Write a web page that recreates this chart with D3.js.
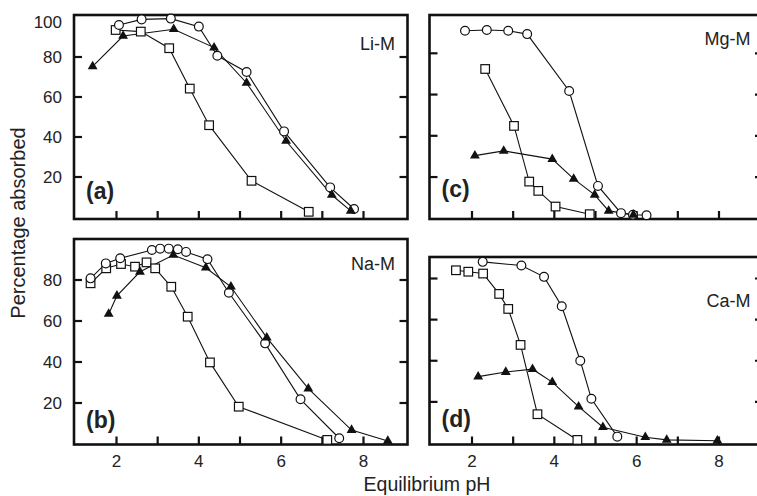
<!DOCTYPE html>
<html>
<head>
<meta charset="utf-8">
<script src="https://cdn.jsdelivr.net/npm/d3@7"></script>
<style>
  html, body { margin: 0; padding: 0; background: #fff; }
  svg { display: block; font-family: "Liberation Sans", Arial, Helvetica, sans-serif; }
</style>
</head>
<body>
<script>

// data: [pH, percentage absorbed]
const liCircle = [[2.06,96],[2.61,98.8],[3.32,99.2],[4.0,95.2],[4.45,80.6],[5.16,72.5],[6.07,42.8],[7.19,14.8],[7.77,4]];
const liTriangle = [[1.42,75.3],[2.16,90.5],[3.39,93.9],[4.37,84.7],[5.16,67],[6.12,38],[7.23,11],[7.69,3.1]];
const liSquare = [[1.98,93.5],[2.59,92.7],[3.28,84.4],[3.78,64.2],[4.25,45.9],[5.28,18.1],[6.67,2.6]];

const naCircle = [[1.37,80.8],[1.74,88.1],[2.09,90.6],[2.86,94.6],[3.06,95.3],[3.27,95.3],[3.49,95],[3.69,93.7],[4.21,90.1],[4.73,73.8],[5.61,49.1],[6.47,21.8],[7.41,2.8]];
const naTriangle = [[1.81,63.4],[2.01,72.3],[2.57,84],[3.38,92.2],[4.17,86],[4.78,76.7],[5.65,51.9],[6.66,27],[7.71,6.8],[8.59,1.5]];
const naSquare = [[1.37,78.4],[1.75,85.7],[2.11,87.8],[2.45,86.5],[2.73,88.6],[2.94,85.7],[3.33,76.7],[3.73,62.1],[4.27,39.8],[4.97,18.2],[7.12,2]];

const mgCircle = [[1.83,90.9],[2.36,91.3],[2.88,90.9],[3.34,89.3],[4.36,61.7],[5.06,15.7],[5.62,2.5],[5.91,1.7],[6.24,1.5]];
const mgTriangle = [[2.07,30.4],[2.77,32.7],[3.95,28.7],[4.47,19.1],[4.98,11.4],[5.32,3.6],[5.92,1.7]];
const mgSquare = [[2.32,72.4],[3.02,44.8],[3.39,17.8],[3.61,13.3],[4.03,5.7],[4.86,2]];

const caCircle = [[2.26,88.1],[3.2,86.3],[3.75,80.8],[4.18,66.5],[4.63,40],[4.9,21.5],[5.53,3.1]];
const caTriangle = [[2.15,32.3],[2.82,34.5],[3.47,35.9],[3.95,29.6],[4.59,17.7],[5.18,7.7],[6.21,2.8],[6.73,1.5],[7.96,1.1]];
const caSquare = [[1.61,84],[1.91,83.3],[2.27,82.4],[2.66,72.5],[2.88,65.2],[3.18,47.7],[3.59,14],[4.56,1.5]];

const xTicks = [2, 3, 4, 5, 6, 7, 8];
const xTickLabels = [2, 4, 6, 8];
const yTicks = [20, 40, 60, 80];
const yTickLabelsTop = [100, 80, 60, 40, 20];
const yTickLabelsBottom = [80, 60, 40, 20];

const width = 757, height = 496;
const panelWidth = 333.5;

const svg = d3.select('body').append('svg')
    .attr('width', width)
    .attr('height', height);

const panels = [
  { tag: '(a)', name: 'Li-M', left: 74, top: 15, bottom: 219, y0: 217, y80: 57,
    circle: liCircle, triangle: liTriangle, square: liSquare,
    yLabels: yTickLabelsTop, xLabels: false, tagY: 199, nameY: 49.5 },
  { tag: '(b)', name: 'Na-M', left: 74, top: 239, bottom: 444.5, y0: 444, y80: 280,
    circle: naCircle, triangle: naTriangle, square: naSquare,
    yLabels: yTickLabelsBottom, xLabels: true, tagY: 428, nameY: 270 },
  { tag: '(c)', name: 'Mg-M', left: 429.5, top: 15, bottom: 219, y0: 218.3, y80: 53.3,
    circle: mgCircle, triangle: mgTriangle, square: mgSquare,
    yLabels: [], xLabels: false, tagY: 197, nameY: 45 },
  { tag: '(d)', name: 'Ca-M', left: 429.5, top: 257, bottom: 444.5, y0: 443, y80: 278.5,
    circle: caCircle, triangle: caTriangle, square: caSquare,
    yLabels: [], xLabels: true, tagY: 427, nameY: 306.5 }
];

const tickLen = 8;

panels.forEach(p => {
  const right = p.left + panelWidth;
  const x = d3.scaleLinear().domain([2, 8]).range([p.left + 42.5, p.left + 289.5]);
  const y = d3.scaleLinear().domain([0, 80]).range([p.y0, p.y80]);

  const g = svg.append('g');

  // ticks, all pointing inward
  g.selectAll('.xt').data(xTicks).enter().append('line')
      .attr('x1', d => x(d)).attr('x2', d => x(d))
      .attr('y1', p.bottom).attr('y2', p.bottom - tickLen)
      .attr('stroke', '#111').attr('stroke-width', 2.2);

  g.selectAll('.ylt').data(yTicks).enter().append('line')
      .attr('x1', p.left).attr('x2', p.left + tickLen)
      .attr('y1', d => y(d)).attr('y2', d => y(d))
      .attr('stroke', '#111').attr('stroke-width', 2.2);

  g.selectAll('.yrt').data(yTicks).enter().append('line')
      .attr('x1', right).attr('x2', right - tickLen)
      .attr('y1', d => y(d)).attr('y2', d => y(d))
      .attr('stroke', '#111').attr('stroke-width', 2.2);

  // frame
  g.append('rect')
      .attr('x', p.left).attr('y', p.top)
      .attr('width', panelWidth).attr('height', p.bottom - p.top)
      .attr('fill', 'none')
      .attr('stroke', '#111')
      .attr('stroke-width', 2.6);

  // tick labels
  g.selectAll('.yl').data(p.yLabels).enter().append('text')
      .attr('x', p.left - 12)
      .attr('y', d => Math.max(y(d), p.top + 7))
      .attr('dy', '0.35em')
      .attr('text-anchor', 'end')
      .style('font-size', '17px')
      .style('fill', '#222')
      .text(d => d);

  if (p.xLabels) {
    g.selectAll('.xl').data(xTickLabels).enter().append('text')
        .attr('x', d => x(d))
        .attr('y', 467)
        .attr('text-anchor', 'middle')
        .style('font-size', '17px')
        .style('fill', '#222')
        .text(d => d);
  }

  // series lines
  const line = d3.line().x(d => x(d[0])).y(d => y(d[1]));
  [p.square, p.circle, p.triangle].forEach(s => {
    g.append('path')
        .datum(s)
        .attr('d', line)
        .attr('fill', 'none')
        .attr('stroke', '#111')
        .attr('stroke-width', 1.1);
  });

  // markers
  g.selectAll('.sq').data(p.square).enter().append('rect')
      .attr('x', d => x(d[0]) - 4.3)
      .attr('y', d => y(d[1]) - 4.3)
      .attr('width', 8.6).attr('height', 8.6)
      .attr('fill', '#fff')
      .attr('stroke', '#111')
      .attr('stroke-width', 1.2);

  g.selectAll('.ci').data(p.circle).enter().append('circle')
      .attr('cx', d => x(d[0]))
      .attr('cy', d => y(d[1]))
      .attr('r', 4.4)
      .attr('fill', '#fff')
      .attr('stroke', '#111')
      .attr('stroke-width', 1.2);

  g.selectAll('.tr').data(p.triangle).enter().append('path')
      .attr('transform', d => `translate(${x(d[0])},${y(d[1])})`)
      .attr('d', d3.symbol().type(d3.symbolTriangle).size(42))
      .attr('fill', '#111');

  // panel texts
  g.append('text')
      .attr('x', p.left + 12)
      .attr('y', p.tagY)
      .style('font-size', '23px')
      .style('font-weight', 'bold')
      .style('fill', '#222')
      .text(p.tag);

  g.append('text')
      .attr('x', p.left + 321)
      .attr('y', p.nameY)
      .attr('text-anchor', 'end')
      .style('font-size', '18px')
      .style('fill', '#222')
      .text(p.name);
});

// axis titles
svg.append('text')
    .attr('transform', 'translate(25,223) rotate(-90)')
    .attr('text-anchor', 'middle')
    .style('font-size', '20px')
    .style('fill', '#222')
    .text('Percentage absorbed');

svg.append('text')
    .attr('x', 427)
    .attr('y', 491)
    .attr('text-anchor', 'middle')
    .style('font-size', '19.5px')
    .style('fill', '#222')
    .text('Equilibrium pH');

</script>
</body>
</html>
